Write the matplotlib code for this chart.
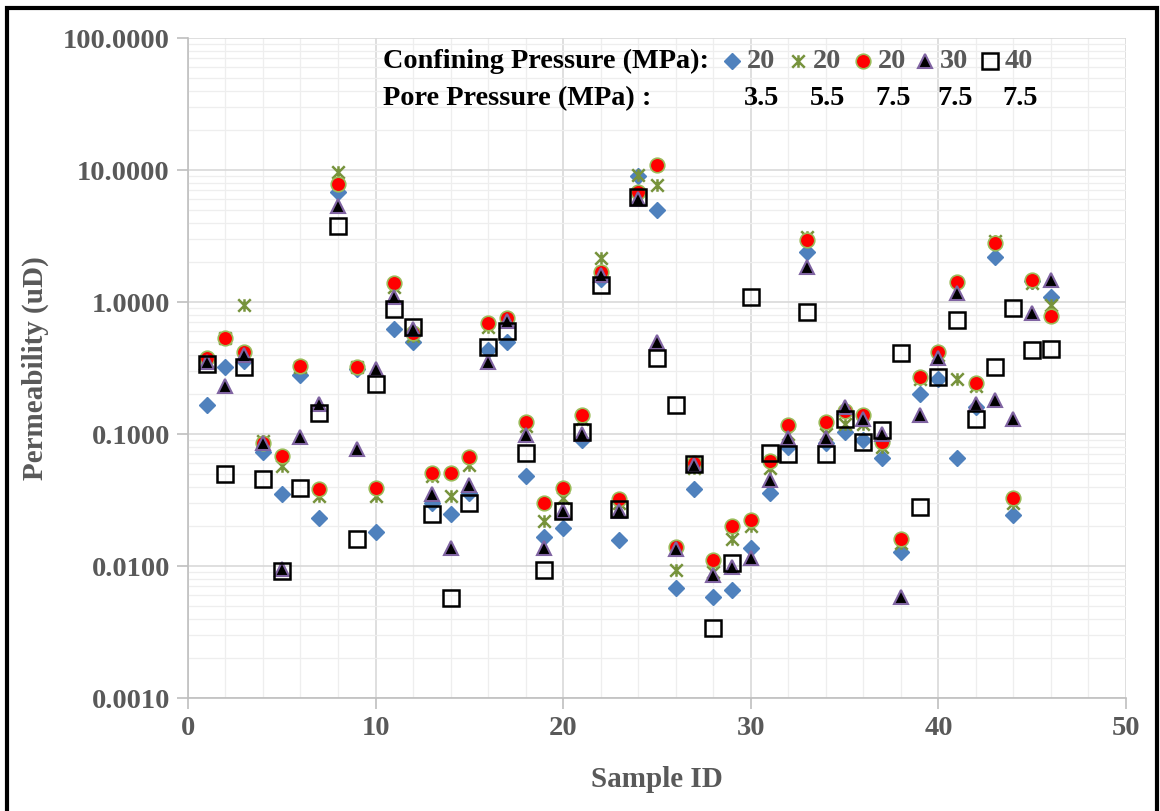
import numpy as np
import matplotlib
matplotlib.use('Agg')
import matplotlib.pyplot as plt
from matplotlib.path import Path
from matplotlib.ticker import FormatStrFormatter, LogLocator, MultipleLocator
from matplotlib.patches import Rectangle

sample_id = np.arange(1, 47)

# permeability (uD) for each test condition
cp20_pp35 = [0.165, 0.32, 0.36, 0.073, 0.035, 0.28, 0.023, 6.8, 0.31, 0.018,
             0.62, 0.5, 0.03, 0.025, 0.036, 0.43, 0.5, 0.048, 0.0165, 0.0195,
             0.09, 1.5, 0.0157, 9.0, 5.0, 0.0068, 0.038, 0.0058, 0.0066, 0.0138,
             0.036, 0.08, 2.4, 0.085, 0.104, 0.09, 0.066, 0.0128, 0.2, 0.26,
             0.066, 0.16, 2.2, 0.0245, 1.45, 1.09]
cp20_pp55 = [0.36, 0.53, 0.95, 0.088, 0.057, 0.32, 0.034, 9.6, 0.32, 0.034,
             1.3, 0.55, 0.048, 0.034, 0.058, 0.65, 0.72, 0.115, 0.022, 0.033,
             0.13, 2.15, 0.03, 9.2, 7.7, 0.0093, 0.055, 0.009, 0.016, 0.02,
             0.055, 0.1, 3.1, 0.1, 0.12, 0.12, 0.08, 0.015, 0.26, 0.4,
             0.26, 0.23, 2.9, 0.03, 1.4, 0.95]
cp20_pp75 = [0.38, 0.53, 0.42, 0.086, 0.068, 0.33, 0.038, 7.8, 0.32, 0.039,
             1.39, 0.58, 0.051, 0.051, 0.067, 0.69, 0.76, 0.123, 0.03, 0.039,
             0.14, 1.7, 0.032, 6.8, 10.9, 0.014, 0.06, 0.0111, 0.02, 0.0225,
             0.063, 0.117, 2.95, 0.123, 0.15, 0.14, 0.087, 0.016, 0.27, 0.42,
             1.42, 0.245, 2.8, 0.033, 1.47, 0.78]
cp30_pp75 = [0.35, 0.23, 0.40, 0.086, 0.0095, 0.095, 0.17, 5.3, 0.077, 0.31,
             1.1, 0.62, 0.035, 0.0137, 0.041, 0.35, 0.72, 0.098, 0.0137, 0.026,
             0.1, 1.6, 0.026, 6.0, 0.5, 0.0135, 0.058, 0.0086, 0.0098, 0.0115,
             0.045, 0.093, 1.85, 0.093, 0.16, 0.13, 0.1, 0.0058, 0.14, 0.38,
             1.17, 0.17, 0.18, 0.13, 0.83, 1.47]
cp40_pp75 = [0.34, 0.05, 0.32, 0.046, 0.0092, 0.039, 0.145, 3.8, 0.016, 0.24,
             0.89, 0.65, 0.025, 0.0057, 0.030, 0.46, 0.6, 0.072, 0.0093, 0.026,
             0.103, 1.35, 0.027, 6.2, 0.38, 0.166, 0.059, 0.0034, 0.0105, 1.09,
             0.072, 0.07, 0.84, 0.07, 0.13, 0.087, 0.107, 0.41, 0.028, 0.27,
             0.73, 0.13, 0.32, 0.9, 0.43, 0.44]

confining = ['20', '20', '20', '30', '40']
pore = ['3.5', '5.5', '7.5', '7.5', '7.5']

# excel style star: an X with a vertical bar
star = Path([(-1, -1), (1, 1), (-1, 1), (1, -1), (0, -1), (0, 1)],
            [Path.MOVETO, Path.LINETO, Path.MOVETO, Path.LINETO, Path.MOVETO, Path.LINETO])

styles = [
    dict(marker='D', ms=7.8, mfc='#4F81BD', mec='#4F81BD', mew=1),
    dict(marker=star, ms=9, mfc='none', mec='#77933C', mew=1.8),
    dict(marker='o', ms=10.5, mfc='#FF0000', mec='#9BBB59', mew=1.2),
    dict(marker='^', ms=10.5, mfc='black', mec='#8064A2', mew=1.5),
    dict(marker='s', ms=11, mfc='none', mec='black', mew=1.8),
]
series = [cp20_pp35, cp20_pp55, cp20_pp75, cp30_pp75, cp40_pp75]

plt.rcParams['font.family'] = ['Liberation Serif', 'DejaVu Serif']
plt.rcParams['font.weight'] = 'bold'

fig = plt.figure(figsize=(11.6, 8.11), dpi=100)
ax = fig.add_axes([0.162, 0.1393, 0.8087, 0.8138])

for vals, st in zip(series, styles):
    ax.plot(sample_id, vals, linestyle='none', **st)

ax.set_yscale('log')
ax.set_ylim(0.001, 100)
ax.set_xlim(0, 50)
ax.xaxis.set_major_locator(MultipleLocator(10))
ax.xaxis.set_minor_locator(MultipleLocator(2))
ax.yaxis.set_major_locator(LogLocator(base=10, numticks=10))
ax.yaxis.set_minor_locator(LogLocator(base=10, subs=np.arange(2, 10), numticks=10))
ax.yaxis.set_major_formatter(FormatStrFormatter('%.4f'))
ax.yaxis.set_minor_formatter(plt.NullFormatter())

ax.grid(which='major', color='#D9D9D9', linewidth=1.2)
ax.grid(which='minor', color='#EEEEEE', linewidth=0.9)
ax.set_axisbelow(True)
for side in ['top', 'right']:
    ax.spines[side].set_visible(False)
for side in ['left', 'bottom']:
    ax.spines[side].set_color('#BFBFBF')
    ax.spines[side].set_linewidth(1.2)
ax.tick_params(which='major', length=8, width=1.2, color='#BFBFBF',
               labelsize=20.5, labelcolor='#595959', pad=5)
ax.tick_params(which='minor', length=0)

ax.set_xlabel('Sample ID', fontsize=21, color='#595959', fontweight='bold', labelpad=18)
ax.set_ylabel('Permeability (uD)', fontsize=21, color='#595959', fontweight='bold', labelpad=10)

# header style legend
ax.text(0.208, 0.965, 'Confining Pressure (MPa):', transform=ax.transAxes,
        fontsize=20.3, color='black', ha='left', va='center')
ax.text(0.208, 0.908, 'Pore Pressure (MPa) :', transform=ax.transAxes,
        fontsize=20.3, color='black', ha='left', va='center')
mark_x = [0.580, 0.650, 0.720, 0.786, 0.855]
for mx, st, cp, pp in zip(mark_x, styles, confining, pore):
    ax.plot([mx], [0.965], transform=ax.transAxes, clip_on=False, linestyle='none', **st)
    ax.text(mx + 0.016, 0.965, cp, transform=ax.transAxes, fontsize=20.3,
            color='#595959', ha='left', va='center')
    ax.text(mx + 0.013, 0.908, pp, transform=ax.transAxes, fontsize=20.3,
            color='black', ha='left', va='center')

fig.patches.append(Rectangle((0.006, -0.01), 0.991, 1.0, transform=fig.transFigure,
                             fill=False, edgecolor='black', linewidth=3))

fig.savefig('out.png', dpi=100)
